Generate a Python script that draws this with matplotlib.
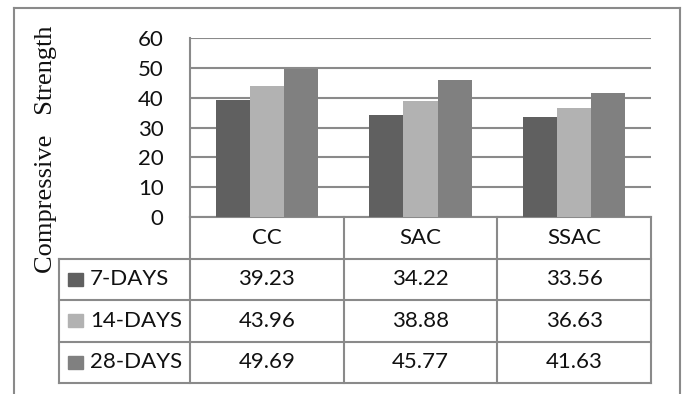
import matplotlib
matplotlib.use("Agg")
import matplotlib.pyplot as plt
from matplotlib.patches import Rectangle
from matplotlib.lines import Line2D
import numpy as np

categories = ["CC", "SAC", "SSAC"]
series_labels = ["7-DAYS", "14-DAYS", "28-DAYS"]
days7 = [39.23, 34.22, 33.56]
days14 = [43.96, 38.88, 36.63]
days28 = [49.69, 45.77, 41.63]
series_colors = ["#606060", "#b2b2b2", "#808080"]
y_ticks = [0, 10, 20, 30, 40, 50, 60]

W, H = 683, 394
fig = plt.figure(figsize=(W / 100, H / 100), dpi=100)
plt.rcParams["font.family"] = ["Lato", "DejaVu Sans"]

LINE_C = "#8a8a8a"
LW = 1.5


def px_rect(x0, y0, x1, y1):
    return [x0 / W, 1 - y1 / H, (x1 - x0) / W, (y1 - y0) / H]


# --- bar chart ---
ax = fig.add_axes(px_rect(190, 38, 651, 217))
series = [days7, days14, days28]
x = np.arange(len(categories))
bw = 1 / 4.5
for i, (vals, col) in enumerate(zip(series, series_colors)):
    ax.bar(x + (i - 1) * bw, vals, width=bw, color=col, zorder=3)
ax.set_xlim(-0.5, 2.5)
ax.set_ylim(0, 60)
ax.set_yticks(y_ticks)
ax.yaxis.grid(True, color=LINE_C, lw=LW, zorder=0)
ax.set_axisbelow(True)
ax.set_xticks([])
ax.tick_params(axis="y", length=0, labelsize=16, pad=19, labelcolor="#111111")
for s in ("top", "right"):
    ax.spines[s].set_visible(False)
for s in ("left", "bottom"):
    ax.spines[s].set_color(LINE_C)
    ax.spines[s].set_linewidth(LW)

# --- data table below the chart ---
unit = (651 - 190) / 3.0
left = -0.5 - (190 - 59) / unit
tab = fig.add_axes(px_rect(59, 217, 651, 383))
tab.set_xlim(left, 2.5)
tab.set_ylim(4, 0)
tab.axis("off")

def seg(x0, y0, x1, y1):
    tab.add_line(Line2D([x0, x1], [y0, y1], color=LINE_C, lw=LW,
                        clip_on=False, solid_capstyle="projecting"))

for r in (1, 2, 3, 4):
    seg(left, r, 2.5, r)
for b in (-0.5, 0.5, 1.5, 2.5):
    seg(b, 0, b, 4)
seg(left, 1, left, 4)

for i, cat in enumerate(categories):
    tab.text(i, 0.5, cat, ha="center", va="center", fontsize=16, color="#111111")

for r, (lab, vals, col) in enumerate(zip(series_labels, series, series_colors)):
    yc = r + 1.5
    sq_w = 15 / unit
    tab.add_patch(Rectangle((left + 9 / unit, yc - 0.16), sq_w, 0.32,
                            color=col, clip_on=False))
    tab.text(left + 31 / unit, yc, lab, ha="left", va="center",
             fontsize=16, color="#111111")
    for i, v in enumerate(vals):
        tab.text(i, yc, f"{v:.2f}", ha="center", va="center",
                 fontsize=16, color="#111111")

# --- axis title ---
fig.text(46 / W, 1 - 149 / H, "Compressive   Strength", rotation=90,
         ha="center", va="center", fontsize=19,
         family=["Liberation Serif", "DejaVu Serif"], color="#111111")

# --- outer frame ---
for xs, ys in (([14, 14], [8, 394]), ([14, 680], [8, 8]), ([680, 680], [8, 394])):
    fig.add_artist(Line2D([v / W for v in xs], [1 - v / H for v in ys],
                          color=LINE_C, lw=LW, transform=fig.transFigure))

fig.savefig("out.png", dpi=100)
